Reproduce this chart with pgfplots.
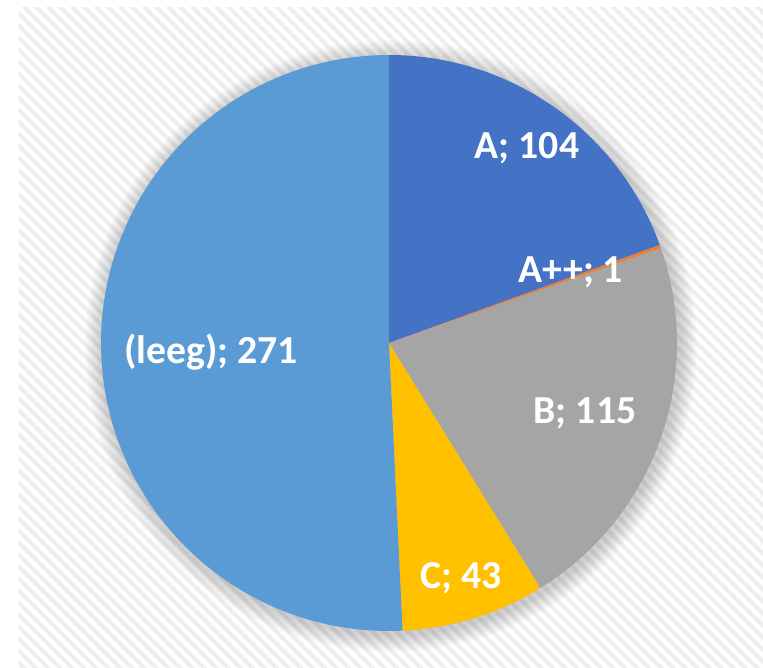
\documentclass[border=0pt]{standalone}
\usepackage{pgfplots}
\pgfplotsset{compat=1.18}
\usepackage{pgfplotstable}
\usetikzlibrary{patterns.meta}
\usepackage{fontspec}
\setmainfont{Carlito}
\definecolor{cA}{HTML}{4472C4}
\definecolor{cApp}{HTML}{ED7D31}
\definecolor{cB}{HTML}{A5A5A5}
\definecolor{cC}{HTML}{FFC000}
\definecolor{cL}{HTML}{5B9BD5}
\definecolor{hatch}{HTML}{EEEEEE}

\pgfplotstableread{
label value col lx ly
A 104 cA 527 520
A++ 1 cApp 571 396
B 115 cB 585 255
C 43 cC 461 90
(leeg) 271 cL 211 316
}\piedata

\begin{document}
\begin{tikzpicture}
\begin{axis}[
  scale only axis, width=7.63cm, height=6.68cm,
  xmin=0, xmax=763, ymin=0, ymax=668,
  hide axis, clip=false]
\fill[white] (axis cs:0,0) rectangle (axis cs:763,668);
\fill[pattern={Lines[angle=-45,distance=0.085cm,line width=0.04cm]}, pattern color=hatch]
  (axis cs:19,0) rectangle (axis cs:763,661);
% shadow
\pgfplotsforeachungrouped \k in {1,...,8}{
  \edef\temp{\noexpand\fill[black, opacity=0.025] (axis cs:391,322) circle[radius=2.88cm+\k*0.022cm];}
  \temp
}
\pgfplotstablegetrowsof{\piedata}
\pgfmathtruncatemacro\N{\pgfplotsretval-1}
\def\total{0}
\pgfplotsforeachungrouped \i in {0,...,\N}{
  \pgfplotstablegetelem{\i}{value}\of\piedata
  \pgfmathsetmacro\total{\total+\pgfplotsretval}
}
\def\cum{0}
\pgfplotsforeachungrouped \i in {0,...,\N}{
  \pgfplotstablegetelem{\i}{value}\of\piedata \let\v\pgfplotsretval
  \pgfplotstablegetelem{\i}{col}\of\piedata \let\c\pgfplotsretval
  \pgfmathsetmacro\sa{90-\cum/\total*360}
  \pgfmathsetmacro\cum{\cum+\v}
  \pgfmathsetmacro\ea{90-\cum/\total*360}
  \edef\temp{\noexpand\fill[\c] (axis cs:389,325) -- ++(\sa:2.88cm) arc[start angle=\sa,end angle=\ea,radius=2.88cm] -- cycle;}
  \temp
}
\pgfplotsforeachungrouped \i in {0,...,\N}{
  \pgfplotstablegetelem{\i}{value}\of\piedata \let\v\pgfplotsretval
  \pgfplotstablegetelem{\i}{label}\of\piedata \let\l\pgfplotsretval
  \pgfplotstablegetelem{\i}{lx}\of\piedata \let\lx\pgfplotsretval
  \pgfplotstablegetelem{\i}{ly}\of\piedata \let\ly\pgfplotsretval
  \edef\temp{\noexpand\node[text=white, inner sep=0pt, font=\noexpand\bfseries\noexpand\fontsize{11.3}{13}\noexpand\selectfont] at (axis cs:\lx,\ly) {\l; \v};}
  \temp
}
\end{axis}
\end{tikzpicture}
\end{document}
